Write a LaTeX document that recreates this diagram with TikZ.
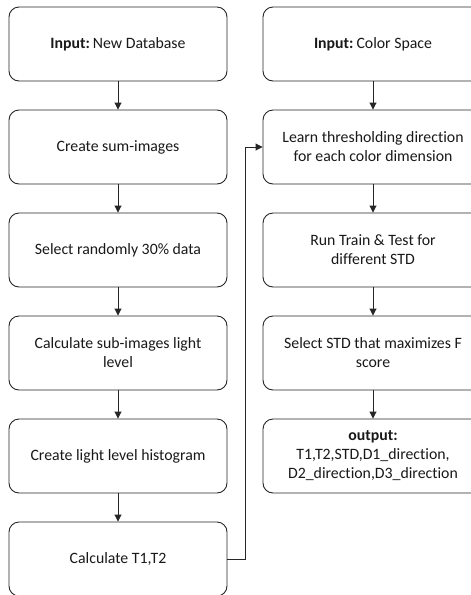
\documentclass[tikz,border=0pt]{standalone}
\usepackage{fontspec}
\setmainfont[Ligatures={NoCommon}]{Carlito}
\usetikzlibrary{arrows.meta}
\begin{document}
\begin{tikzpicture}[x=1pt,y=-1pt,
  box/.style={draw=black!85, line width=0.9pt, rounded corners=10pt, fill=white,
    minimum height=74pt, align=center, font=\fontsize{15.8}{19}\selectfont, text=black!90, inner sep=0pt},
  lbox/.style={box, minimum width=218pt},
  rbox/.style={box, minimum width=220pt},
  arr/.style={draw=black!85, line width=0.9pt, -{Triangle[length=7pt,width=7pt]}}]
\useasboundingbox (0,0) rectangle (471,595);
\clip (0,0) rectangle (471,595);
\node[lbox] (l1) at (118,44) {\textbf{Input:}\hspace{3pt}New Database};
\node[lbox] (l2) at (118,147) {Create sum-images};
\node[lbox] (l3) at (118,250) {Select randomly 30\% data};
\node[lbox] (l4) at (118,353) {Calculate sub-images light\\level};
\node[lbox] (l5) at (118,456) {Create light level histogram};
\node[lbox] (l6) at (118,559) {Calculate T1,T2};
\node[rbox] (r1) at (373,44) {\textbf{Input:}\hspace{3pt}Color Space};
\node[rbox] (r2) at (373,147) {Learn thresholding  direction\\for each color dimension};
\node[rbox] (r3) at (373,250) {Run Train \& Test for\\different STD};
\node[rbox] (r4) at (373,353) {Select STD that maximizes F\\score};
\node[rbox] (r5) at (373,456) {\textbf{output:}\\T1,T2,STD,D1\_direction,\\D2\_direction,D3\_direction};
\foreach \a/\b in {l1/l2,l2/l3,l3/l4,l4/l5,l5/l6,r1/r2,r2/r3,r3/r4,r4/r5}
  \draw[arr] (\a) -- (\b);
\coordinate (c1) at (245.5,559);
\coordinate (c2) at (245.5,147);
\draw[arr] (l6.east) -- (c1) -- (c2) -- (r2.west);
\end{tikzpicture}
\end{document}
